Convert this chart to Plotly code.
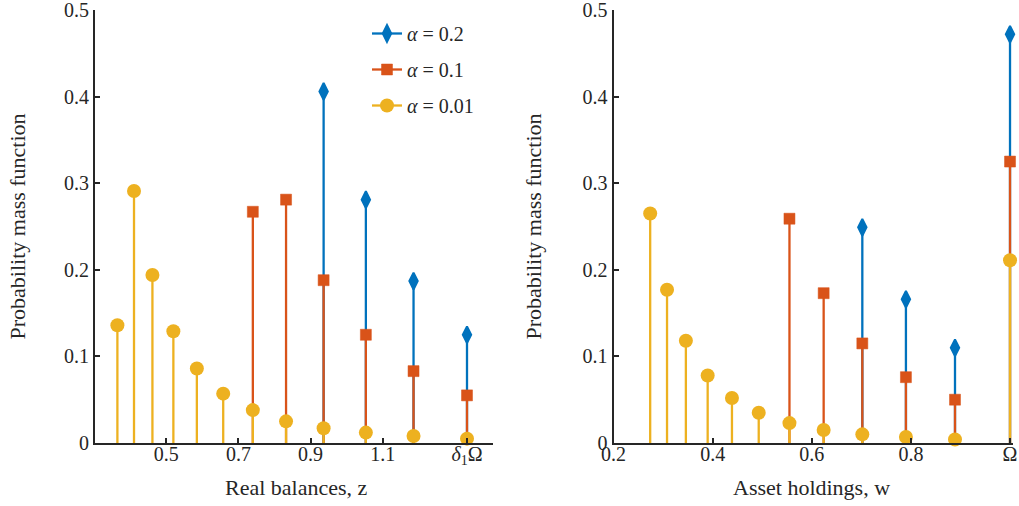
import plotly.graph_objects as go

# ---------------- data ----------------
# Left panel: real balances z
z_grid = [0.365, 0.411, 0.462, 0.520, 0.585, 0.658, 0.740, 0.832, 0.936, 1.053, 1.185, 1.333]
z_a001 = [0.136, 0.291, 0.194, 0.129, 0.086, 0.057, 0.038, 0.025, 0.017, 0.012, 0.008, 0.005]
z_grid_a01 = [0.740, 0.832, 0.936, 1.053, 1.185, 1.333]
z_a01 = [0.267, 0.281, 0.188, 0.125, 0.083, 0.055]
z_grid_a02 = [0.936, 1.053, 1.185, 1.333]
z_a02 = [0.406, 0.281, 0.187, 0.125]

# Right panel: asset holdings w
w_grid = [0.274, 0.308, 0.346, 0.390, 0.439, 0.493, 0.555, 0.624, 0.702, 0.790, 0.889, 1.000]
w_a001 = [0.265, 0.177, 0.118, 0.078, 0.052, 0.035, 0.023, 0.015, 0.010, 0.007, 0.004, 0.211]
w_grid_a01 = [0.555, 0.624, 0.702, 0.790, 0.889, 1.000]
w_a01 = [0.259, 0.173, 0.115, 0.076, 0.050, 0.325]
w_grid_a02 = [0.702, 0.790, 0.889, 1.000]
w_a02 = [0.249, 0.166, 0.110, 0.472]

series_names = ["<i>α</i> = 0.2", "<i>α</i> = 0.1", "<i>α</i> = 0.01"]

left_tickvals = [0.5, 0.7, 0.9, 1.1, 1.333]
left_ticktext = ["0.5", "0.7", "0.9", "1.1", "<i>δ</i><sub>1</sub>Ω"]
right_tickvals = [0.2, 0.4, 0.6, 0.8, 1.0]
right_ticktext = ["0.2", "0.4", "0.6", "0.8", "Ω"]
y_tickvals = [0, 0.1, 0.2, 0.3, 0.4, 0.5]
y_ticktext = ["0", "0.1", "0.2", "0.3", "0.4", "0.5"]

# ---------------- style ----------------
BLUE = "#0072BD"
ORANGE = "#D95319"
YELLOW = "#EDB120"
INK = "#262626"
FONT = "Liberation Serif"
STEM_W = 2.3

styles = {
    "a02": dict(color=BLUE, symbol="diamond-tall", size=12, lw=2),
    "a01": dict(color=ORANGE, symbol="square", size=11, lw=0.5),
    "a001": dict(color=YELLOW, symbol="circle", size=14, lw=0),
}

fig = go.Figure()


def add_stem(x, y, key, xa, ya):
    st = styles[key]
    fig.add_trace(go.Scatter(
        x=x, y=y, mode="markers",
        marker=dict(color=st["color"], symbol=st["symbol"], size=st["size"],
                    line=dict(color=st["color"], width=st["lw"])),
        error_y=dict(type="data", symmetric=False, array=[0] * len(y), arrayminus=y,
                     width=0, thickness=STEM_W, color=st["color"]),
        xaxis=xa, yaxis=ya, showlegend=False, cliponaxis=False))


add_stem(z_grid_a02, z_a02, "a02", "x", "y")
add_stem(z_grid_a01, z_a01, "a01", "x", "y")
add_stem(z_grid, z_a001, "a001", "x", "y")
add_stem(w_grid_a02, w_a02, "a02", "x2", "y2")
add_stem(w_grid_a01, w_a01, "a01", "x2", "y2")
add_stem(w_grid, w_a001, "a001", "x2", "y2")

for name, key in zip(series_names, ["a02", "a01", "a001"]):
    st = styles[key]
    fig.add_trace(go.Scatter(
        x=[None], y=[None], mode="lines+markers", name=name, legendgroup=key,
        line=dict(color=st["color"], width=STEM_W),
        marker=dict(color=st["color"], symbol=st["symbol"], size=st["size"],
                    line=dict(color=st["color"], width=st["lw"])),
        xaxis="x", yaxis="y"))

W, H = 1019, 506


def px_x(p):
    return p / W


def px_y(p):
    return (H - p) / H


axis_common = dict(showline=True, linecolor=INK, linewidth=2, ticks="inside",
                   ticklen=5, tickwidth=1.5, tickcolor=INK, showgrid=False,
                   zeroline=False, automargin=False, ticklabeloverflow="allow",
                   tickfont=dict(family=FONT, size=20, color=INK))

fig.update_layout(
    width=W, height=H,
    margin=dict(l=0, r=0, t=0, b=0, pad=0, autoexpand=False),
    paper_bgcolor="white", plot_bgcolor="white",
    font=dict(family=FONT, color=INK),
    xaxis=dict(domain=[px_x(95), px_x(493)], range=[0.303, 1.405], anchor="y",
               ticklabelstandoff=-8,
               tickmode="array", tickvals=left_tickvals, ticktext=left_ticktext, **axis_common),
    yaxis=dict(domain=[px_y(443), px_y(10)], range=[0, 0.5], anchor="x",
               tickmode="array", tickvals=y_tickvals, ticktext=y_ticktext, **axis_common),
    xaxis2=dict(domain=[px_x(613.5), px_x(1012.5)], range=[0.2, 1.005], anchor="y2",
                ticklabelstandoff=-8,
                tickmode="array", tickvals=right_tickvals, ticktext=right_ticktext, **axis_common),
    yaxis2=dict(domain=[px_y(443), px_y(10)], range=[0, 0.5], anchor="x2",
                tickmode="array", tickvals=y_tickvals, ticktext=y_ticktext, **axis_common),
    legend=dict(x=px_x(367), y=px_y(14), xanchor="left", yanchor="top",
                bgcolor="rgba(0,0,0,0)", font=dict(family=FONT, size=20, color=INK),
                traceorder="grouped", tracegroupgap=7),
    showlegend=True,
)

title_font = dict(family=FONT, size=22, color=INK)
fig.add_annotation(text="Probability mass function", x=px_x(17), y=px_y(226.5),
                   xref="paper", yref="paper", textangle=-90, showarrow=False,
                   xanchor="center", yanchor="middle", font=title_font)
fig.add_annotation(text="Probability mass function", x=px_x(533), y=px_y(226.5),
                   xref="paper", yref="paper", textangle=-90, showarrow=False,
                   xanchor="center", yanchor="middle", font=title_font)
fig.add_annotation(text="Real balances, z", x=px_x(296), y=px_y(487),
                   xref="paper", yref="paper", showarrow=False,
                   xanchor="center", yanchor="middle", font=title_font)
fig.add_annotation(text="Asset holdings, w", x=px_x(811.5), y=px_y(487),
                   xref="paper", yref="paper", showarrow=False,
                   xanchor="center", yanchor="middle", font=title_font)

fig.write_html("out.html")
